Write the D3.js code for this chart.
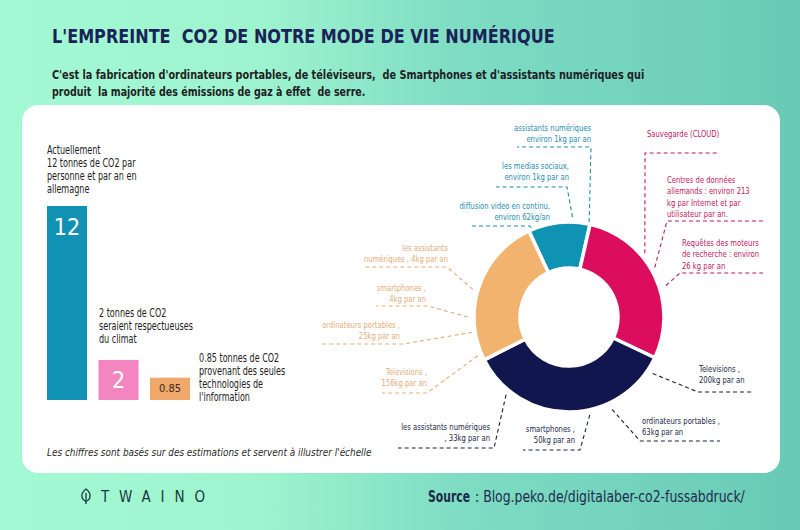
<!DOCTYPE html>
<html>
<head>
<meta charset="utf-8">
<title>L'empreinte CO2 de notre mode de vie numérique</title>
<style>
body { margin:0; }
svg text { font-family: "Liberation Sans Narrow", "DejaVu Sans Condensed", Roboto, sans-serif; white-space: pre; }
</style>
</head>
<body>
<svg id="chart" width="800" height="530"></svg>
<script src="https://cdnjs.cloudflare.com/ajax/libs/d3/7.8.5/d3.min.js"></script>
<script>

// --- data ---
const barCategories = ["actuel", "climat", "numerique"];
const barValues = [12, 2, 0.85];
const barValueLabels = ["12", "2", "0.85"];
const barNotes = [
  ["Actuellement", "12 tonnes de CO2 par", "personne et par an en", "allemagne"],
  ["2 tonnes de CO2", "seraient respectueuses", "du climat"],
  ["0.85 tonnes de CO2", "provenant des seules", "technologies de", "l'information"]
];

const ringSegments = ["en ligne", "cloud", "fabrication", "usage"];
const ringShares = [10.5, 28.5, 35.5, 25.5];   // estimated share of the ring, %

const ringLabels = [
  { seg: 0, lines: ["assistants numériques", "environ 1kg par an"] },
  { seg: 0, lines: ["les medias sociaux,", "environ 1kg par an"] },
  { seg: 0, lines: ["diffusion video en continu,", "environ 62kg/an"] },
  { seg: 1, lines: ["Sauvegarde (CLOUD)"] },
  { seg: 1, lines: ["Centres de données", "allemands : environ 213", "kg par Internet et par", "utilisateur par an."] },
  { seg: 1, lines: ["Requêtes des moteurs", "de recherche : environ", "26 kg par an"] },
  { seg: 3, lines: ["les assistants", "numériques , 4kg par an"] },
  { seg: 3, lines: ["smartphones ,", "4kg par an"] },
  { seg: 3, lines: ["ordinateurs portables ,", "25kg par an"] },
  { seg: 3, lines: ["Televisions ,", "156kg par an"] },
  { seg: 2, lines: ["Televisions ,", "200kg par an"] },
  { seg: 2, lines: ["ordinateurs portables ,", "63kg par an"] },
  { seg: 2, lines: ["smartphones ,", "50kg par an"] },
  { seg: 2, lines: ["les assistants numériques", ", 33kg par an"] }
];

// --- layout ---
const W = 800, H = 530;
const barColors = ["#1192b4", "#f386c1", "#f0a96a"];
const ringColors = ["#0f93b4", "#dc0c5f", "#12164f", "#f2b36e"];
const labelColors = ["#1f8db2", "#c0185f", "#1b1f45", "#e3ad78"];

const cx = 569, cy = 317, rOuter = 95, rInner = 49;
const narrow = 0.8;   // the source font is much narrower than ours

// label placement relative to the ring centre:
// start = [angle deg, radius], elbow = [dx, dy], end = x of the dashed run,
// text at [tx, ty] (first baseline), anchor
const ringLabelPos = [
  { start: [12, 97],  elbow: [22, -170],  end: -52,  tx: 22,  ty: -186, anchor: "end" },
  { start: [2, 100],  elbow: [-2, -130],  end: -73,  tx: 0,   ty: -148, anchor: "end" },
  { start: [-23, 97], elbow: [-39, -91],  end: -97,  tx: -19, ty: -108, anchor: "end" },
  { start: [50, 99],  elbow: [76, -164],  end: 149,  tx: 78,  ty: -180, anchor: "start" },
  { start: [60, 99],  elbow: [98, -96],   end: 196,  tx: 98,  ty: -134, anchor: "start" },
  { start: [72, 102], elbow: [111, -44],  end: 194,  tx: 113, ty: -71,  anchor: "start" },
  { start: [-74, 100], elbow: [-122, -50], end: -206, tx: -121, ty: -66, anchor: "end" },
  { start: [-90, 101], elbow: [-141, -11], end: -193, tx: -143, ty: -26, anchor: "end" },
  { start: [-99, 98],  elbow: [-166, 27],  end: -247, tx: -169, ty: 11,  anchor: "end" },
  { start: [-113, 99], elbow: [-142, 76],  end: -187, tx: -142, ty: 58,  anchor: "end" },
  { start: [124, 101], elbow: [129, 75],   end: 183,  tx: 130,  ty: 55,  anchor: "start" },
  { start: [155, 102], elbow: [71, 124],   end: 151,  tx: 73,   ty: 107, anchor: "start" },
  { start: [168, 100], elbow: [11, 133],   end: -46,  tx: 6,    ty: 115, anchor: "end" },
  { start: [-141, 100], elbow: [-75, 131], end: -171, tx: -79,  ty: 113, anchor: "end" }
];

const svg = d3.select("#chart");

// multi-line text, squeezed horizontally
function block(parent, tx, ty, lines, opts) {
  const g = parent.append("g")
      .attr("transform", `translate(${tx},${ty}) scale(${opts.sx || 1},1)`);
  const t = g.append("text")
      .attr("text-anchor", opts.anchor || "start")
      .attr("font-size", opts.size)
      .attr("fill", opts.fill);
  lines.forEach((l, j) => {
    t.append("tspan").attr("x", 0).attr("dy", j ? opts.lh : 0).text(l);
  });
  return g;
}

// one line of text scaled to a given width
function fitted(parent, tx, ty, str, width, attrs) {
  const g = parent.append("g");
  const t = g.append("text").text(str);
  Object.entries(attrs).forEach(([k, v]) => t.attr(k, v));
  const k = width / t.node().getComputedTextLength();
  g.attr("transform", `translate(${tx},${ty}) scale(${k},1)`);
  return g;
}

// background gradient
const defs = svg.append("defs");
const grad = defs.append("linearGradient").attr("id", "bg")
    .attr("x1", 0).attr("x2", 1).attr("y1", 0).attr("y2", 0);
grad.append("stop").attr("offset", "0%").attr("stop-color", "#a3f9d3");
grad.append("stop").attr("offset", "32%").attr("stop-color", "#9ef4cf");
grad.append("stop").attr("offset", "58%").attr("stop-color", "#7edcc3");
grad.append("stop").attr("offset", "100%").attr("stop-color", "#68cab6");

svg.append("rect").attr("width", W).attr("height", H).attr("fill", "url(#bg)");

// title + subtitle
fitted(svg, 52, 43, "L'EMPREINTE  CO2 DE NOTRE MODE DE VIE NUMÉRIQUE", 503,
       { "font-size": 20, "font-weight": "bold", fill: "#1b2257" });

const subtitle = [
  ["C'est la fabrication d'ordinateurs portables, de téléviseurs,  de Smartphones et d'assistants numériques qui", 593],
  ["produit  la majorité des émissions de gaz à effet  de serre.", 314]
];
subtitle.forEach((d, i) => {
  fitted(svg, 52, 79 + i * 17, d[0], d[1],
         { "font-size": 12.5, "font-weight": "bold", fill: "#1e1e24" });
});

// white card
svg.append("rect")
    .attr("x", 22).attr("y", 105).attr("width", 758).attr("height", 368)
    .attr("rx", 16).attr("fill", "#fff");

// --- bars ---
const x = d3.scaleBand().domain(barCategories).range([47, 190]).paddingInner(0.223);
const y = d3.scaleLinear().domain([-0.6, 12]).range([400, 206]);
const baseY = 400;

const bars = svg.append("g").attr("class", "bars");
bars.selectAll("rect").data(barValues).join("rect")
    .attr("x", (d, i) => x(barCategories[i]))
    .attr("y", d => y(d))
    .attr("width", x.bandwidth())
    .attr("height", d => baseY - y(d))
    .attr("fill", (d, i) => barColors[i]);

bars.selectAll("text.val").data(barValues).join("text")
    .attr("class", "val")
    .attr("x", (d, i) => x(barCategories[i]) + x.bandwidth() / 2)
    .attr("y", d => Math.min(y(d) + 21, (y(d) + baseY) / 2))
    .attr("dominant-baseline", "central")
    .attr("text-anchor", "middle")
    .attr("font-size", (d, i) => i < 2 ? 23 : 11)
    .attr("font-family", "'DejaVu Sans', sans-serif")
    .attr("font-weight", 200)
    .attr("fill", (d, i) => i < 2 ? "#fff" : "#3a2a1a")
    .text((d, i) => barValueLabels[i]);

// bar notes: [x, first baseline]
const notePos = [[47, 154], [99, 317], [199, 362]];
barNotes.forEach((lines, i) => {
  block(bars, notePos[i][0], notePos[i][1], lines,
        { size: 11.5, lh: 13, fill: "#1c1c22", sx: 0.78 });
});

fitted(svg, 47, 456, "Les chiffres sont basés sur des estimations et servent à illustrer l'échelle", 325,
       { "font-size": 10.5, "font-style": "italic", fill: "#2a2a2a" });

// --- ring ---
const pie = d3.pie().sort(null)
    .startAngle(-25 * Math.PI / 180)
    .endAngle(335 * Math.PI / 180);
const arc = d3.arc().innerRadius(rInner).outerRadius(rOuter);

const ring = svg.append("g").attr("transform", `translate(${cx},${cy})`);
ring.selectAll("path.slice").data(pie(ringShares)).join("path")
    .attr("class", "slice")
    .attr("d", arc)
    .attr("fill", (d, i) => ringColors[i])
    .attr("stroke", "#fff").attr("stroke-width", 3.5);

// leader lines + labels
ringLabels.forEach((lab, i) => {
  const p = ringLabelPos[i];
  const col = labelColors[lab.seg];
  const s = d3.pointRadial(p.start[0] * Math.PI / 180, p.start[1]);
  const pts = [s, p.elbow, [p.end, p.elbow[1]]];
  ring.append("path")
      .attr("d", d3.line()(pts))
      .attr("fill", "none")
      .attr("stroke", col)
      .attr("stroke-width", 1.1)
      .attr("stroke-dasharray", "4,3");
  block(ring, p.tx, p.ty, lab.lines,
        { size: 9.5, lh: 11.5, fill: col, anchor: p.anchor, sx: narrow });
});

// --- footer ---
const logo = svg.append("g").attr("stroke", "#173b3e").attr("fill", "none").attr("stroke-width", 1.3);
logo.append("path").attr("d", "M86,489 C80.5,493 80.5,499 86,501.5 C91.5,499 91.5,493 86,489 Z");
logo.append("path").attr("d", "M86,493 L86,504");

svg.append("text")
    .attr("x", 101).attr("y", 502)
    .attr("font-family", "'DejaVu Sans Mono', 'Liberation Mono', monospace")
    .attr("font-size", 15)
    .attr("fill", "#173b3e")
    .attr("textLength", 104).attr("lengthAdjust", "spacing")
    .text("TWAINO");

fitted(svg, 428, 502, "Source", 42,
       { "font-size": 15.5, "font-weight": "bold", fill: "#1d2a4a" });
fitted(svg, 475, 502, ": Blog.peko.de/digitalaber-co2-fussabdruck/", 270,
       { "font-size": 15.5, fill: "#1d2a4a" });

</script>
</body>
</html>
